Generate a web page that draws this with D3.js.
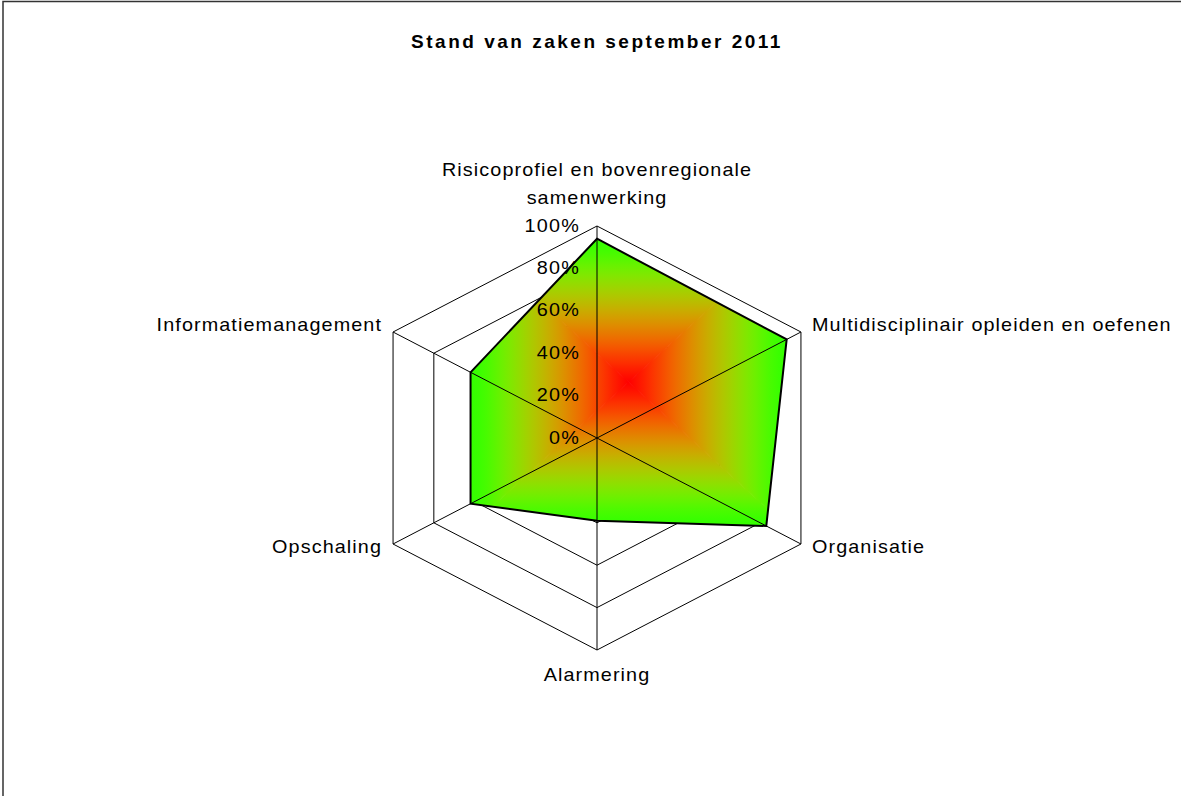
<!DOCTYPE html>
<html>
<head>
<meta charset="utf-8">
<script src="https://cdn.jsdelivr.net/npm/d3@7"></script>
<style>
  html, body { margin: 0; background: #fff; overflow: hidden; }
  svg { display: block; font-family: "Liberation Sans", Arial, sans-serif; }
</style>
</head>
<body>
<svg id="chart" width="1181" height="796"></svg>
<script>
const title = "Stand van zaken september 2011";
const axisNames = [
    ["Risicoprofiel en bovenregionale", "samenwerking"],
    ["Multidisciplinair opleiden en oefenen"],
    ["Organisatie"],
    ["Alarmering"],
    ["Opschaling"],
    ["Informatiemanagement"]
];
const scores = [0.94, 0.93, 0.83, 0.39, 0.62, 0.62];
const tickValues = [0, 0.2, 0.4, 0.6, 0.8, 1];
const tickLabels = ["0%", "20%", "40%", "60%", "80%", "100%"];

const svg = d3.select('#chart');
const cx = 597, cy = 438;
const stretch = 1.1; // text in the original is drawn a little wide

// the chart is a bit wider than high, so x and y get their own radius scale
const rx = d3.scaleLinear().domain([0, 1]).range([0, 235.5]);
const ry = d3.scaleLinear().domain([0, 1]).range([0, 212]);
const angle = i => i * 2 * Math.PI / axisNames.length;
const px = (i, v) => cx + rx(v) * Math.sin(angle(i));
const py = (i, v) => cy - ry(v) * Math.cos(angle(i));

const closed = d3.line().curve(d3.curveLinearClosed);

// frame (only top and left edge fall inside the picture)
svg.append('path')
    .attr('d', 'M3,796V1.5H1181')
    .attr('fill', 'none')
    .attr('stroke', '#333')
    .attr('stroke-width', 1.5);

svg.append('text')
    .attr('x', 597).attr('y', 48)
    .attr('text-anchor', 'middle')
    .attr('font-size', 19)
    .attr('font-weight', 'bold')
    .attr('letter-spacing', '2.5px')
    .text(title);

// grid hexagons (under the fill)
svg.append('g').selectAll('path')
    .data(tickValues.filter(t => t > 0))
    .enter().append('path')
    .attr('d', t => closed(axisNames.map((_, i) => [px(i, t), py(i, t)])))
    .attr('fill', 'none')
    .attr('stroke', '#000')
    .attr('stroke-width', 1);

// rectangular "from centre" gradient: red in the middle, green at the box edges
const pts = scores.map((v, i) => [px(i, v), py(i, v)]);
const x0 = d3.min(pts, d => d[0]), x1 = d3.max(pts, d => d[0]);
const y0 = d3.min(pts, d => d[1]), y1 = d3.max(pts, d => d[1]);
const mx = (x0 + x1) / 2, my = (y0 + y1) / 2;
const mix = d3.interpolateRgb.gamma(2.2)('#ff0000', '#33ff00');
const ease = t => Math.pow(t * t * (3 - 2 * t), 1.25);
const stops = d3.range(0, 1.0001, 0.05);

const defs = svg.append('defs');
defs.append('clipPath').attr('id', 'area-clip')
    .append('path').attr('d', closed(pts));

const parts = [
    { id: 'g-top', end: [mx, y0], tri: [[x0, y0], [x1, y0], [mx, my]] },
    { id: 'g-bottom', end: [mx, y1], tri: [[x0, y1], [x1, y1], [mx, my]] },
    { id: 'g-left', end: [x0, my], tri: [[x0, y0], [x0, y1], [mx, my]] },
    { id: 'g-right', end: [x1, my], tri: [[x1, y0], [x1, y1], [mx, my]] }
];

parts.forEach(p => {
    const lg = defs.append('linearGradient')
        .attr('id', p.id)
        .attr('gradientUnits', 'userSpaceOnUse')
        .attr('x1', mx).attr('y1', my)
        .attr('x2', p.end[0]).attr('y2', p.end[1]);
    lg.selectAll('stop').data(stops).enter().append('stop')
        .attr('offset', d => d)
        .attr('stop-color', d => mix(ease(d)));
});

const fillGroup = svg.append('g').attr('clip-path', 'url(#area-clip)');
fillGroup.selectAll('path')
    .data(parts)
    .enter().append('path')
    .attr('d', p => closed(p.tri))
    .attr('fill', p => `url(#${p.id})`)
    .attr('stroke', p => `url(#${p.id})`)
    .attr('stroke-width', 1);

// spokes on top of the fill
svg.append('g').selectAll('line')
    .data(axisNames)
    .enter().append('line')
    .attr('x1', cx).attr('y1', cy)
    .attr('x2', (_, i) => px(i, 1))
    .attr('y2', (_, i) => py(i, 1))
    .attr('stroke', '#000')
    .attr('stroke-width', 1);

svg.append('path')
    .attr('d', closed(pts))
    .attr('fill', 'none')
    .attr('stroke', '#000')
    .attr('stroke-width', 2)
    .attr('stroke-linejoin', 'miter');

// tick labels along the top spoke
svg.append('g').selectAll('text')
    .data(tickValues)
    .enter().append('text')
    .attr('transform', t => `translate(${cx - 17},${cy - ry(t) + 5.5}) scale(${stretch},1)`)
    .attr('text-anchor', 'end')
    .attr('font-size', 18)
    .attr('letter-spacing', '1.1px')
    .text((_, i) => tickLabels[i]);

// category labels
const labelPos = [
    { dx: 0, dy: -50, anchor: 'middle' },
    { dx: 11, dy: -1, anchor: 'start' },
    { dx: 11, dy: 9, anchor: 'start' },
    { dx: 0, dy: 31, anchor: 'middle' },
    { dx: -11, dy: 9, anchor: 'end' },
    { dx: -11, dy: -1, anchor: 'end' }
];

const labels = svg.append('g').selectAll('text')
    .data(axisNames)
    .enter().append('text')
    .attr('transform', (_, i) =>
        `translate(${px(i, 1) + labelPos[i].dx},${py(i, 1) + labelPos[i].dy}) scale(${stretch},1)`)
    .attr('text-anchor', (_, i) => labelPos[i].anchor)
    .attr('font-size', 18)
    .attr('letter-spacing', '1px');

labels.selectAll('tspan')
    .data(d => d)
    .enter().append('tspan')
    .attr('x', 0)
    .attr('dy', (_, j) => j === 0 ? 0 : 28)
    .text(d => d);
</script>
</body>
</html>
